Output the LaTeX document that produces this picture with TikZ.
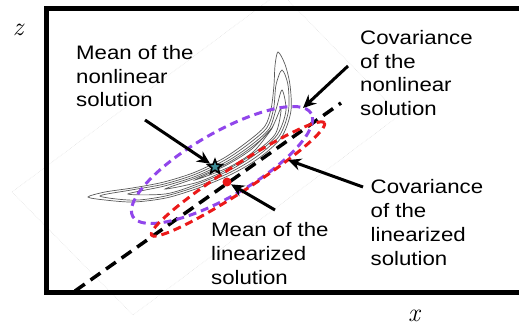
\documentclass[tikz,border=0pt]{standalone}
\usepackage{fontspec}
\newfontfamily\labfont[FakeStretch=1.14]{Liberation Sans}
\usetikzlibrary{arrows.meta,shapes.geometric}
\definecolor{covpurple}{RGB}{145,70,235}
\definecolor{covred}{RGB}{235,25,25}
\definecolor{starfill}{RGB}{60,140,150}
\tikzset{
  lab/.style={font={\labfont\fontsize{19.5pt}{23.7pt}\selectfont}, align=left, inner sep=0pt, anchor=base west},
  axlab/.style={font={\fontsize{26pt}{30pt}\selectfont\itshape}, inner sep=0pt},
  arr/.style={line width=3pt, -{Stealth[length=13pt,width=12pt]}},
  contour/.style={draw=gray!70!black, line width=0.7pt},
  covdash/.style={line width=3pt, dash pattern=on 8pt off 5pt},
  faint/.style={draw=gray!22, line width=0.6pt, densely dotted}
}
\begin{document}
\begin{tikzpicture}[x=1pt,y=-1pt]
\useasboundingbox (0,0) rectangle (519,328);
% faint background artefact
\draw[faint] (12,192) -- (133,315) -- (400,115) -- (280,-8) -- cycle;
% frame
\draw[line width=5pt] (530,9) -- (46,9) -- (46,293) -- (530,293);
% axis labels
\node[axlab] (zlab) at (18,30) {z};
\node[axlab] (xlab) at (414,316) {x};
% banana-shaped contours
\draw[contour] plot[smooth cycle, tension=0.5] coordinates {(88,197) (105,200) (133.7,202) (166.8,197.8) (199.8,187.5) (232.2,173.9) (259,158) (281.2,137.7) (290.8,111.9) (290,85) (285,64.4) (278,52) (275,65.6) (274,85) (271.2,108.1) (264.8,126.3) (247,142) (223.8,158.1) (194.2,172.5) (163.2,182.2) (132.3,188) (105,192)};
\draw[contour] plot[smooth cycle, tension=0.5] coordinates {(100,196) (133.5,200.2) (166.4,195.8) (199.1,185.6) (231.2,171.9) (257.5,156) (279.1,136.3) (288.4,111.4) (288,85) (282,70) (276,85) (273.6,108.6) (266.9,127.7) (248.5,144) (224.8,160.1) (194.9,174.4) (163.6,184.2) (132.5,189.8)};
\draw[contour] plot[smooth cycle, tension=0.5] coordinates {(128,194) (165.9,193.9) (198.4,183.7) (230.1,170) (256,154) (277.1,134.9) (285.9,110.9) (282,90) (276.1,109.1) (268.9,129.1) (250,146) (225.9,162) (195.6,176.3) (164.1,186.1)};
\draw[contour] plot[smooth cycle, tension=0.5] coordinates {(165,189) (197.9,182.2) (229.3,168.4) (254.8,152.4) (275.5,133.7) (281,108) (270.5,130.3) (251.2,147.6) (226.7,163.6) (196.1,177.8)};
\draw[contour] plot[smooth cycle, tension=0.5] coordinates {(195,180) (228.7,167.3) (253.9,151.2) (272,128) (252.1,148.8) (227.3,164.7)};
% linearization line
\coordinate (lstart) at (75,291);
\coordinate (lend) at (341,103);
\draw[line width=3.5pt, dash pattern=on 12pt off 7pt] (lstart) -- (lend);
% covariance ellipses
\draw[covdash, covpurple, rotate around={30:(222,165)}] (222,165) ellipse [x radius=103pt, y radius=32pt];
\draw[covdash, covred, rotate around={33:(238,179)}] (238,179) ellipse [x radius=103pt, y radius=13pt];
% means
\node[star, star points=5, star point ratio=2.3, minimum size=15pt, inner sep=0pt, fill=starfill, draw=black, line width=1.6pt] (nlmean) at (215,167) {};
\node[circle, fill=covred, minimum size=9pt, inner sep=0pt] (linmean) at (227,182) {};
% labels (anchor = baseline of last line)
\node[lab] (labA) at (76,106.9) {Mean of the\\nonlinear\\solution};
\node[lab] (labB) at (360,115.6) {Covariance\\of the\\nonlinear\\solution};
\node[lab] (labC) at (370.5,265.1) {Covariance\\of the\\linearized\\solution};
\node[lab] (labD) at (211,284.4) {Mean of the\\linearized\\solution};
% arrow ends
\coordinate (tA) at (145,120);
\coordinate (tB) at (348,66);
\coordinate (hB) at (303,108);
\coordinate (tC) at (363,187);
\coordinate (hC) at (288,160);
\coordinate (tD) at (275,210);
\draw[arr] (tA) -- (nlmean);
\draw[arr] (tB) -- (hB);
\draw[arr] (tC) -- (hC);
\draw[arr] (tD) -- (linmean);
\end{tikzpicture}
\end{document}
